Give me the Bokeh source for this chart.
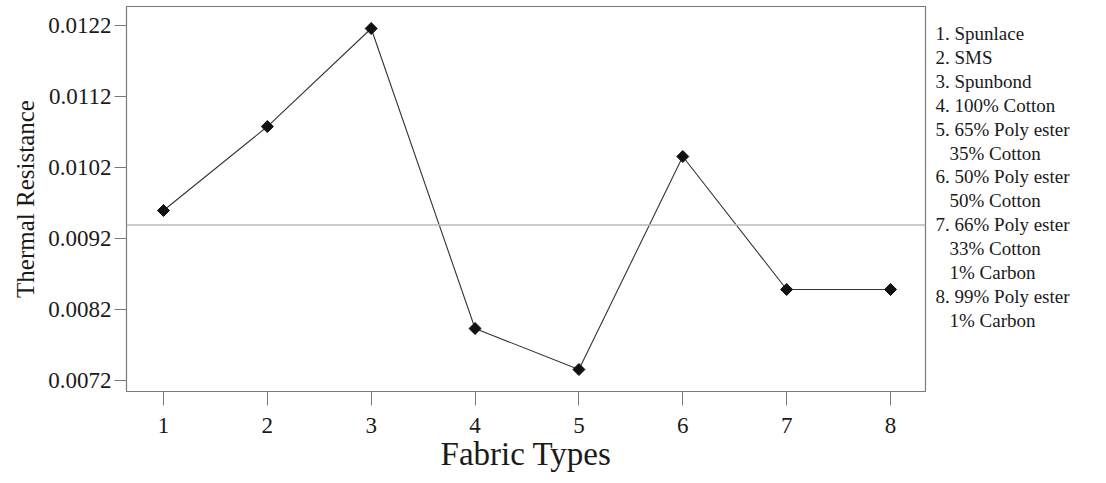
import math
from bokeh.plotting import figure
from bokeh.layouts import row
from bokeh.models import Range1d, FixedTicker, PrintfTickFormatter, Span
from bokeh.embed import file_html
from bokeh.resources import INLINE

fabric_types = [1, 2, 3, 4, 5, 6, 7, 8]
thermal_resistance = [0.009594, 0.010777, 0.012158, 0.007932, 0.007355, 0.010355, 0.008482, 0.008482]
mean_line = 0.009392
y_ticks = [0.0072, 0.0082, 0.0092, 0.0102, 0.0112, 0.0122]
legend_lines = [
    "1. Spunlace",
    "2. SMS",
    "3. Spunbond",
    "4. 100% Cotton",
    "5. 65% Poly ester",
    "35% Cotton",
    "6. 50% Poly ester",
    "50% Cotton",
    "7. 66% Poly ester",
    "33% Cotton",
    "1% Carbon",
    "8. 99% Poly ester",
    "1% Carbon",
]

FONT = "Liberation Serif"
H = 483
TOP, BOTTOM = 6, 92

p = figure(width=932, height=H, output_backend="svg", toolbar_location=None,
           x_range=Range1d(0.644, 8.337), y_range=Range1d(0.007045, 0.012468),
           min_border_left=126, min_border_right=7, min_border_top=TOP, min_border_bottom=BOTTOM)
p.grid.visible = False
p.outline_line_color = "#7a7a7a"
p.outline_line_width = 1.2

p.xaxis.ticker = FixedTicker(ticks=fabric_types)
p.yaxis.ticker = FixedTicker(ticks=y_ticks)
p.yaxis.formatter = PrintfTickFormatter(format="%.4f")
for ax in (p.xaxis[0], p.yaxis[0]):
    ax.axis_line_color = "#7a7a7a"
    ax.major_tick_line_color = "#7a7a7a"
    ax.minor_tick_line_color = None
    ax.major_tick_in = 0
    ax.major_tick_out = 12
    ax.major_label_text_font = FONT
    ax.major_label_text_color = "#1a1a1a"
    ax.axis_label_text_font = FONT
    ax.axis_label_text_font_style = "normal"
    ax.axis_label_text_color = "#1a1a1a"
p.xaxis.major_tick_out = 14
p.xaxis.major_label_text_font_size = "23px"
p.yaxis.major_label_text_font_size = "23px"
p.xaxis.major_label_standoff = 12
p.yaxis.major_label_standoff = 3
p.xaxis.axis_label = "Fabric Types"
p.xaxis.axis_label_text_font_size = "33px"
p.xaxis.axis_label_standoff = 0
p.yaxis.axis_label = "Thermal Resistance"
p.yaxis.axis_label_text_font_size = "25px"
p.yaxis.axis_label_standoff = 6

p.add_layout(Span(location=mean_line, dimension="width", line_color="#b8b8b8", line_width=1.5))
p.line(fabric_types, thermal_resistance, line_color="#333333", line_width=1.1)
p.scatter(fabric_types, thermal_resistance, marker="square", angle=math.pi / 4, size=8.5,
          fill_color="#111111", line_color="#111111")

# legend panel: plain text list to the right of the plot (frame aligned with the plot's frame)
LW = 1106 - 932
lg = figure(width=LW, height=H, output_backend="svg", toolbar_location=None,
            x_range=Range1d(0, LW), y_range=Range1d(H - BOTTOM, TOP),
            x_axis_location=None, y_axis_location=None,
            min_border_left=0, min_border_right=0, min_border_top=TOP, min_border_bottom=BOTTOM,
            outline_line_color=None)
lg.grid.visible = False
xs = [3 if t[0].isdigit() and ". " in t[:3] else 17 for t in legend_lines]
ys = [33 + 23.9 * i for i in range(len(legend_lines))]
lg.text(x=xs, y=ys, text=legend_lines,
        text_font=FONT, text_font_size="19px", text_color="#1a1a1a",
        text_baseline="middle", text_align="left")

layout = row(p, lg, spacing=0)
open("out.html", "w").write(file_html(layout, INLINE))
